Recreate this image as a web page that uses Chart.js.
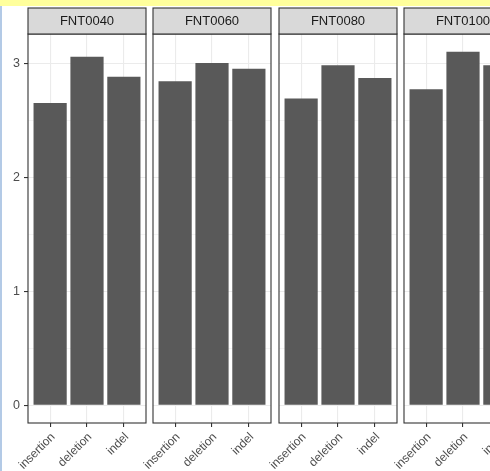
<!DOCTYPE html>
<html>
<head>
<meta charset="utf-8">
<script src="https://cdn.jsdelivr.net/npm/chart.js@4/dist/chart.umd.min.js"></script>
<style>
  html, body { margin: 0; padding: 0; background: #ffffff; }
  #frame { position: relative; width: 490px; height: 471px; overflow: hidden; background: #ffffff; }
  #topband { position: absolute; left: 0; top: 0; width: 490px; height: 6px; background: #FFFF9C; }
  #sideband { position: absolute; left: 0; top: 6px; width: 2px; height: 465px; background: #B3CAE6; }
  canvas.panel { position: absolute; top: 0; }
</style>
</head>
<body>
<div id="frame">
  <div id="topband"></div>
  <div id="sideband"></div>
</div>
<script>
// Facet labels and the variant categories shown in every panel
const facets = ['FNT0040', 'FNT0060', 'FNT0080', 'FNT0100'];
const variantTypes = ['insertion', 'deletion', 'indel'];

// Bar heights per facet (insertion, deletion, indel)
const fnt0040 = [2.65, 3.055, 2.88];
const fnt0060 = [2.84, 3.00, 2.95];
const fnt0080 = [2.69, 2.98, 2.87];
const fnt0100 = [2.77, 3.10, 2.98];
const facetValues = [fnt0040, fnt0060, fnt0080, fnt0100];

// Y axis tick labels (major) and minor grid positions
const yMajorTicks = [0, 1, 2, 3];
const yMinorTicks = [0.5, 1.5, 2.5];

// Panel geometry
const panelLefts = [28, 153, 279, 404];
const panelWidth = 118;
const gutter = 28;       // room for the y axis on the left of each panel
const stripTop = 8;
const plotTop = 34;
const plotBottom = 423;
const H = 471;

const FONT = '"Liberation Sans", Arial, Helvetica, sans-serif';

// shared y range with 5% expansion on both sides
const allVals = facetValues.flat();
const yTop = Math.max(...allVals);
const yPad = yTop * 0.05;
const yMin = -yPad, yMax = yTop + yPad;

const facetFrame = {
  id: 'facetFrame',
  afterDraw(chart, args, opts) {
    const { ctx, chartArea: a } = chart;
    ctx.save();
    ctx.lineWidth = 1.1;
    ctx.strokeStyle = '#333333';
    ctx.strokeRect(a.left, a.top, a.right - a.left, a.bottom - a.top);
    // facet strip
    ctx.fillStyle = '#D9D9D9';
    ctx.fillRect(a.left, stripTop, a.right - a.left, a.top - stripTop);
    ctx.strokeRect(a.left, stripTop, a.right - a.left, a.top - stripTop);
    ctx.fillStyle = '#1A1A1A';
    ctx.font = '13px ' + FONT;
    ctx.textAlign = 'center';
    ctx.textBaseline = 'middle';
    ctx.fillText(opts.label, (a.left + a.right) / 2, (stripTop + a.top) / 2 + 0.5);
    ctx.restore();
  }
};

const frame = document.getElementById('frame');

facets.forEach((facet, idx) => {
  const first = idx === 0;
  const canvas = document.createElement('canvas');
  canvas.className = 'panel';
  const cw = gutter + panelWidth + 4;
  canvas.width = cw;
  canvas.height = H;
  canvas.style.left = (panelLefts[idx] - gutter) + 'px';
  canvas.style.width = cw + 'px';
  canvas.style.height = H + 'px';
  frame.appendChild(canvas);

  const values = facetValues[idx];

  new Chart(canvas.getContext('2d'), {
    type: 'bar',
    data: {
      datasets: [{
        data: values.map((v, i) => ({ x: i + 1, y: v })),
        backgroundColor: '#595959',
        borderWidth: 0,
        barPercentage: 0.9,
        categoryPercentage: 1.0
      }]
    },
    options: {
      responsive: false,
      animation: false,
      devicePixelRatio: 1,
      layout: { padding: { left: 0, right: 4, top: plotTop, bottom: 0 } },
      plugins: {
        legend: { display: false },
        tooltip: { enabled: false },
        facetFrame: { label: facet }
      },
      scales: {
        x: {
          type: 'linear',
          min: 0.4,
          max: 3.6,
          offset: false,
          grid: {
            offset: false,
            color: '#EBEBEB',
            lineWidth: 1.1,
            tickColor: '#333333',
            tickLength: 4,
            tickWidth: 1.1
          },
          border: { display: false },
          ticks: {
            minRotation: 45,
            maxRotation: 45,
            autoSkip: false,
            padding: 3,
            labelOffset: 3,
            color: '#4D4D4D',
            font: { family: FONT, size: 12 },
            callback: v => variantTypes[v - 1]
          },
          afterBuildTicks: s => { s.ticks = variantTypes.map((_, i) => ({ value: i + 1 })); },
          afterFit: s => { s.height = H - plotBottom; }
        },
        y: {
          type: 'linear',
          min: yMin,
          max: yMax,
          grid: {
            color: '#EBEBEB',
            lineWidth: c => (Number.isInteger(c.tick.value) ? 1.1 : 0.55),
            tickColor: c => (first && Number.isInteger(c.tick.value) ? '#333333' : 'rgba(0,0,0,0)'),
            tickLength: 4,
            tickWidth: 1.1
          },
          border: { display: false },
          ticks: {
            display: first,
            padding: 4,
            color: '#4D4D4D',
            font: { family: FONT, size: 12.5 },
            callback: v => (Number.isInteger(v) ? String(v) : '')
          },
          afterBuildTicks: s => {
            s.ticks = [...yMajorTicks, ...yMinorTicks].sort((a, b) => a - b).map(v => ({ value: v }));
          },
          afterFit: s => { s.width = gutter; }
        }
      }
    },
    plugins: [facetFrame]
  });
});
</script>
</body>
</html>
